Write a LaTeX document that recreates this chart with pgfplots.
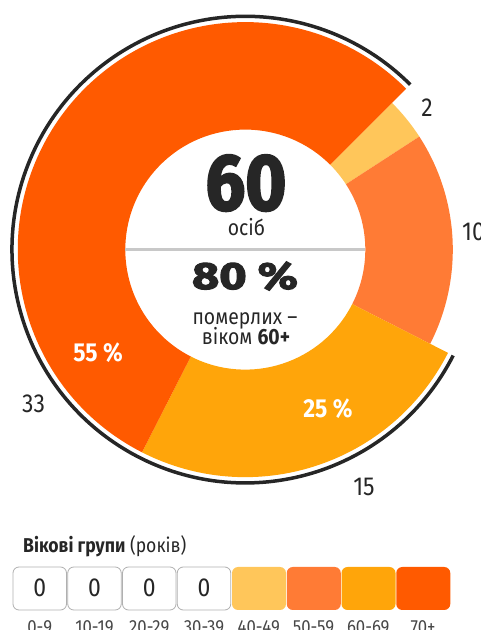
\documentclass[border=0pt]{standalone}
\usepackage{pgfplots}
\pgfplotsset{compat=1.18}
\usepackage{pgfplotstable}
\usepackage{fontspec}
\setmainfont{Fira Sans}[FakeStretch=0.88]
\newfontfamily\heavy{Fira Sans}[FakeStretch=0.88,BoldFeatures={FakeBold=2.5}]
\definecolor{cA}{HTML}{FFC65A}
\definecolor{cB}{HTML}{FF7B35}
\definecolor{cC}{HTML}{FFA50A}
\definecolor{cD}{HTML}{FF5A00}
\definecolor{txt}{HTML}{262626}
\definecolor{sep}{HTML}{C8C8C8}
\definecolor{boxb}{HTML}{B0B0B0}

\pgfplotstableread{
value rout col
2 207.5 cA
10 207.5 cB
15 227.5 cC
33 227.5 cD
}\agedata

\newcommand\fs[1]{\fontsize{#1}{#1}\selectfont}

\begin{document}
\begin{tikzpicture}
\begin{axis}[x=1pt,y=1pt,xmin=0,xmax=481,ymin=0,ymax=630,
  hide axis,clip=false,anchor=south west,at={(0,0)}]
\pgfplotsextra{%
  \gdef\startang{45}%
  \foreach \ii in {0,1,2,3}{%
    \pgfplotstablegetelem{\ii}{value}\of\agedata \edef\vv{\pgfplotsretval}%
    \pgfplotstablegetelem{\ii}{rout}\of\agedata \edef\ro{\pgfplotsretval}%
    \pgfplotstablegetelem{\ii}{col}\of\agedata \edef\cl{\pgfplotsretval}%
    \pgfmathsetmacro\endang{\startang-360*\vv/60}%
    \begin{scope}[shift={(axis cs:245.3,380.4)}]
      \fill[\cl] (\startang:\ro pt) arc[start angle=\startang,end angle=\endang,radius=\ro pt]
        -- (\endang:120pt) arc[start angle=\endang,end angle=\startang,radius=120pt] -- cycle;
    \end{scope}
    \xdef\startang{\endang}%
  }%
  \begin{scope}[shift={(axis cs:245.3,380.4)}]
    \draw[txt,line width=3.5pt] (-27:233.3pt) arc[start angle=-27,end angle=-315,radius=233.3pt];
  \end{scope}
  \foreach \kk/\lab in {0/0-9,1/10-19,2/20-29,3/30-39}{
    \pgfmathsetmacro\xa{13+54.75*\kk}\pgfmathsetmacro\xb{66.5+54.75*\kk}\pgfmathsetmacro\xc{39.75+54.75*\kk}
    \draw[boxb,fill=white,line width=0.8pt,rounded corners=6pt] (axis cs:\xa,20) rectangle (axis cs:\xb,63);
    \node[anchor=base,text=txt,inner sep=0pt] at (axis cs:\xc,33.3) {\fs{26}0};
    \node[anchor=base,text=txt!85,inner sep=0pt] at (axis cs:\xc,-3) {\fs{19}\lab};
  }
  \foreach \kk/\lab/\cl in {4/40-49/cA,5/50-59/cB,6/60-69/cC,7/70+/cD}{
    \pgfmathsetmacro\xa{13+54.75*\kk}\pgfmathsetmacro\xb{67+54.75*\kk}\pgfmathsetmacro\xc{39.75+54.75*\kk}
    \fill[\cl,rounded corners=6pt] (axis cs:\xa,20) rectangle (axis cs:\xb,63);
    \node[anchor=base,text=txt!85,inner sep=0pt] at (axis cs:\xc,-3) {\fs{19}\lab};
  }
}
\draw[sep,line width=3.5pt] (axis cs:125.3,380.7) -- (axis cs:365.3,380.7);
% centre texts
\node[anchor=base,text=txt,inner sep=0pt] at (axis cs:246,420) {\fs{80}\heavy\bfseries 60};
\node[anchor=base,text=txt,inner sep=0pt] at (axis cs:246.5,394) {\fs{22}осіб};
\node[anchor=base,text=txt,inner sep=0pt] at (axis cs:245,341) {\scalebox{1.4}[1]{\fs{38}\heavy\bfseries 80 \%}};
\node[anchor=base,text=txt,inner sep=0pt] at (axis cs:245,305) {\fs{22}померлих –};
\node[anchor=base,text=txt,inner sep=0pt] at (axis cs:246,285) {\fs{22}віком \textbf{60+}};
% value labels
\node[anchor=base,text=txt,inner sep=0pt] at (axis cs:427,513) {\fs{26}2};
\node[anchor=base west,text=txt,inner sep=0pt] at (axis cs:462,389) {\fs{26}10};
\node[anchor=base,text=txt,inner sep=0pt] at (axis cs:364,134) {\fs{26}15};
\node[anchor=base,text=txt,inner sep=0pt] at (axis cs:33.5,217) {\fs{26}33};
\node[anchor=base,text=white,inner sep=0pt] at (axis cs:98,268) {\fs{26}\bfseries 55 \%};
\node[anchor=base,text=white,inner sep=0pt] at (axis cs:328,212) {\fs{26}\bfseries 25 \%};
% legend
\node[anchor=base west,text=txt,inner sep=0pt] at (axis cs:23,77) {\fs{20}\textbf{Вікові групи} (років)};
\end{axis}
\pgfresetboundingbox
\useasboundingbox (0,0) rectangle (481pt,630pt);
\end{tikzpicture}
\end{document}
